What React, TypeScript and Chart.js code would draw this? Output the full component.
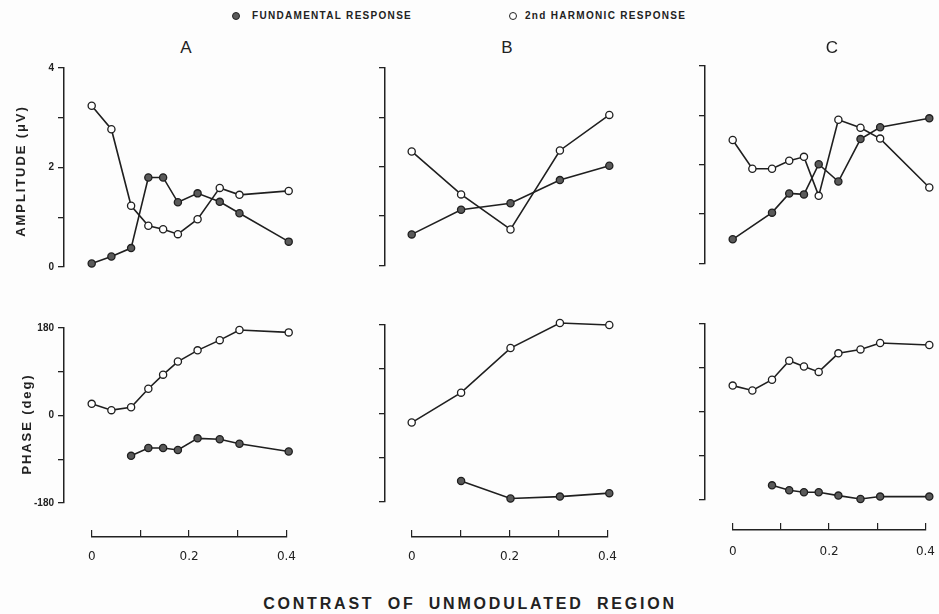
import React, { useEffect, useRef } from 'react';
import { Chart, registerables } from 'chart.js';

Chart.register(...registerables);

// ---------- data ----------
const xFull = [0, 0.04, 0.08, 0.115, 0.145, 0.175, 0.215, 0.26, 0.3, 0.4];
const xLate = [0.08, 0.115, 0.145, 0.175, 0.215, 0.26, 0.3, 0.4];
const xB = [0, 0.1, 0.2, 0.3, 0.4];
const xBLate = [0.1, 0.2, 0.3, 0.4];
const xCFund = [0, 0.08, 0.115, 0.145, 0.175, 0.215, 0.26, 0.3, 0.4];

const ampFundA = [0.07, 0.21, 0.38, 1.8, 1.8, 1.3, 1.48, 1.31, 1.08, 0.51];
const ampHarmA = [3.24, 2.77, 1.23, 0.83, 0.76, 0.66, 0.96, 1.59, 1.45, 1.53];
const phaseFundA = [-83, -67, -67, -71, -47, -49, -58, -74];
const phaseHarmA = [24, 11, 17, 55, 84, 111, 134, 155, 176, 171];

const ampFundB = [0.63, 1.13, 1.26, 1.73, 2.02];
const ampHarmB = [2.31, 1.44, 0.73, 2.33, 3.05];
const phaseFundB = [-138, -174, -170, -163];
const phaseHarmB = [-19, 42, 133, 184, 180];

const ampFundC = [0.49, 1.03, 1.42, 1.4, 2.01, 1.66, 2.52, 2.76, 2.94];
const ampHarmC = [2.5, 1.92, 1.92, 2.08, 2.16, 1.37, 2.91, 2.75, 2.53, 1.54];
const phaseFundC = [-150, -160, -164, -164, -171, -178, -173, -173];
const phaseHarmC = [54, 44, 66, 105, 93, 82, 120, 128, 141, 137];

const ampTickValues = [0, 1, 2, 3, 4];
const ampTickLabels = ['0', '', '2', '', '4'];
const phaseTickValues = [-180, -90, 0, 90, 180];
const phaseTickLabels = ['-180', '', '0', '', '180'];
const xTickValues = [0, 0.1, 0.2, 0.3, 0.4];
const xTickLabels = ['0', '', '0.2', '', '0.4'];

const panelLetters = ['A', 'B', 'C'];
const legendFund = 'FUNDAMENTAL RESPONSE';
const legendHarm = '2nd HARMONIC RESPONSE';
const ampTitle = 'AMPLITUDE (\u03bcV)';
const phaseTitle = 'PHASE (deg)';
const xTitle = 'CONTRAST OF UNMODULATED REGION';

// ---------- layout (pixels) ----------
const cols = [
  { yAxisX: 64, x0: 91.7, x4: 288.7, ampTop: 68, ampBot: 267, phTop: 328, phBot: 503, xAxisY: 537, labPad: 13, labels: true },
  { yAxisX: 385, x0: 411.7, x4: 609.3, ampTop: 68, ampBot: 265.5, phTop: 325, phBot: 501.5, xAxisY: 536.5, labPad: 13, labels: false },
  { yAxisX: 705, x0: 732.7, x4: 929.3, ampTop: 66, ampBot: 263.5, phTop: 323.5, phBot: 500, xAxisY: 530, labPad: 15, labels: false },
];

const INK = '#1f1f1f';
const FILL = '#5a5a5a';

function pts(xs: number[], ys: number[]) {
  return xs.map((x, i) => ({ x, y: ys[i] }));
}

function ds(xs: number[], ys: number[], filled: boolean) {
  return {
    data: pts(xs, ys),
    borderColor: INK,
    borderWidth: 1.6,
    pointRadius: 3.6,
    pointBorderWidth: 1.3,
    pointBorderColor: INK,
    pointBackgroundColor: filled ? FILL : '#ffffff',
    tension: 0,
    clip: false as any,
  };
}

function ChartCanvas({ left, top, width, height, config }: any) {
  const ref = useRef<HTMLCanvasElement | null>(null);
  useEffect(() => {
    if (!ref.current) return;
    const chart = new Chart(ref.current, config);
    return () => chart.destroy();
  }, []);
  return (
    <canvas
      ref={ref}
      width={Math.round(width)}
      height={Math.round(height)}
      style={{ position: 'absolute', left: Math.round(left), top: Math.round(top), width: Math.round(width), height: Math.round(height) }}
    />
  );
}

const W = 60;
const PAD = 10;
const RIGHT_EXTRA = 12;

function dataPanel(col: any, top: number, bot: number, yMin: number, yMax: number, tickVals: number[], tickLabs: string[], datasets: any[]) {
  const ppu = (col.x4 - col.x0) / 0.4;
  const left = Math.round(col.yAxisX - W);
  const width = Math.round(W + (col.x4 - col.yAxisX) + RIGHT_EXTRA);
  const areaLeft = left + W;
  const areaRight = left + width;
  const cTop = Math.round(top - PAD);
  const padTop = top - cTop;
  const height = Math.round(bot - cTop + PAD);
  const padBot = cTop + height - bot;
  const config = {
    type: 'line',
    data: { datasets },
    options: {
      animation: false,
      responsive: false,
      maintainAspectRatio: false,
      layout: { autoPadding: false, padding: { top: padTop, bottom: padBot, left: 0, right: 0 } },
      plugins: { legend: { display: false }, tooltip: { enabled: false } },
      scales: {
        x: {
          type: 'linear',
          display: false,
          min: -(col.x0 - areaLeft) / ppu,
          max: 0.4 + (areaRight - col.x4) / ppu,
        },
        y: {
          type: 'linear',
          position: 'left',
          min: yMin,
          max: yMax,
          afterFit: (s: any) => { s.width = W; },
          afterBuildTicks: (s: any) => { s.ticks = tickVals.map((v) => ({ value: v })); },
          ticks: {
            callback: (v: number) => (col.labels ? tickLabs[tickVals.indexOf(v)] ?? '' : ''),
            font: { family: 'Liberation Sans', size: 10, weight: 'bold' },
            color: '#222',
            padding: 4,
          },
          grid: { drawOnChartArea: false, drawTicks: true, tickLength: 6, color: '#222', lineWidth: 1.3 },
          border: { display: true, color: '#222', width: 1.5 },
        },
      },
    },
  };
  return { left, top: cTop, width, height, config };
}

function xAxisPanel(col: any) {
  const padX = 20;
  const H = 30;
  const left = Math.round(col.x0 - padX);
  const width = Math.round(col.x4 - col.x0 + 2 * padX);
  const padL = col.x0 - left;
  const padR = left + width - col.x4;
  const config = {
    type: 'line',
    data: { datasets: [] },
    options: {
      animation: false,
      responsive: false,
      maintainAspectRatio: false,
      layout: { autoPadding: false, padding: { top: 0, bottom: 0, left: padL, right: padR } },
      plugins: { legend: { display: false }, tooltip: { enabled: false } },
      scales: {
        y: { display: false, min: 0, max: 1 },
        x: {
          type: 'linear',
          position: 'bottom',
          min: 0,
          max: 0.4,
          afterFit: (s: any) => { s.height = H; },
          afterBuildTicks: (s: any) => { s.ticks = xTickValues.map((v) => ({ value: v })); },
          ticks: {
            callback: (v: number) => xTickLabels[xTickValues.indexOf(v)] ?? '',
            font: { family: 'DejaVu Sans', size: 12 },
            color: '#222',
            padding: col.labPad,
            maxRotation: 0,
            autoSkip: false,
          },
          grid: { drawOnChartArea: true, drawTicks: false, color: '#222', lineWidth: 1.2 },
          border: { display: true, color: '#222', width: 1.5 },
        },
      },
    },
  };
  return { left, top: Math.round(col.xAxisY - 7), width, height: 7 + H, config };
}

const colData = [
  {
    amp: [ds(xFull, ampHarmA, false), ds(xFull, ampFundA, true)],
    ph: [ds(xFull, phaseHarmA, false), ds(xLate, phaseFundA, true)],
  },
  {
    amp: [ds(xB, ampHarmB, false), ds(xB, ampFundB, true)],
    ph: [ds(xB, phaseHarmB, false), ds(xBLate, phaseFundB, true)],
  },
  {
    amp: [ds(xFull, ampHarmC, false), ds(xCFund, ampFundC, true)],
    ph: [ds(xFull, phaseHarmC, false), ds(xLate, phaseFundC, true)],
  },
];

const textBase: React.CSSProperties = {
  position: 'absolute',
  fontFamily: 'Liberation Sans, Arial, sans-serif',
  color: '#222',
  whiteSpace: 'nowrap',
  lineHeight: 1,
};

export default function App() {
  const panels: any[] = [];
  cols.forEach((col, i) => {
    panels.push(dataPanel(col, col.ampTop, col.ampBot, 0, 4, ampTickValues, ampTickLabels, colData[i].amp));
    panels.push(dataPanel(col, col.phTop, col.phBot, -180, 180, phaseTickValues, phaseTickLabels, colData[i].ph));
    panels.push(xAxisPanel(col));
  });
  const letterX = [186, 507, 832];
  return (
    <div style={{ position: 'fixed', left: 0, top: 0, width: 939, height: 614, background: '#fdfdfd', overflow: 'hidden' }}>
      {panels.map((p, i) => (
        <ChartCanvas key={i} {...p} />
      ))}
      {/* legend */}
      <div style={{ position: 'absolute', left: 232, top: 12, width: 8, height: 8, borderRadius: 4, background: FILL, border: '1px solid #222', boxSizing: 'border-box' }} />
      <div style={{ ...textBase, left: 252, top: 11, fontSize: 10, fontWeight: 'bold', letterSpacing: 1.3 }}>{legendFund}</div>
      <div style={{ position: 'absolute', left: 509, top: 12, width: 8, height: 8, borderRadius: 4, background: '#fff', border: '1.3px solid #222', boxSizing: 'border-box' }} />
      <div style={{ ...textBase, left: 525, top: 11, fontSize: 10, fontWeight: 'bold', letterSpacing: 1.3 }}>{legendHarm}</div>
      {panelLetters.map((l, i) => (
        <div key={l} style={{ ...textBase, left: letterX[i], top: 47, transform: 'translate(-50%,-50%)', fontSize: 17 }}>{l}</div>
      ))}
      <div style={{ ...textBase, left: 20, top: 171, transform: 'translate(-50%,-50%) rotate(-90deg)', fontSize: 13, fontWeight: 'bold', letterSpacing: 1.9 }}>{ampTitle}</div>
      <div style={{ ...textBase, left: 26, top: 424, transform: 'translate(-50%,-50%) rotate(-90deg)', fontSize: 13, fontWeight: 'bold', letterSpacing: 1.9 }}>{phaseTitle}</div>
      <div style={{ ...textBase, left: 470, top: 604, transform: 'translate(-50%,-50%)', fontSize: 16, fontWeight: 'bold', letterSpacing: 2.8, wordSpacing: 6 }}>{xTitle}</div>
    </div>
  );
}
